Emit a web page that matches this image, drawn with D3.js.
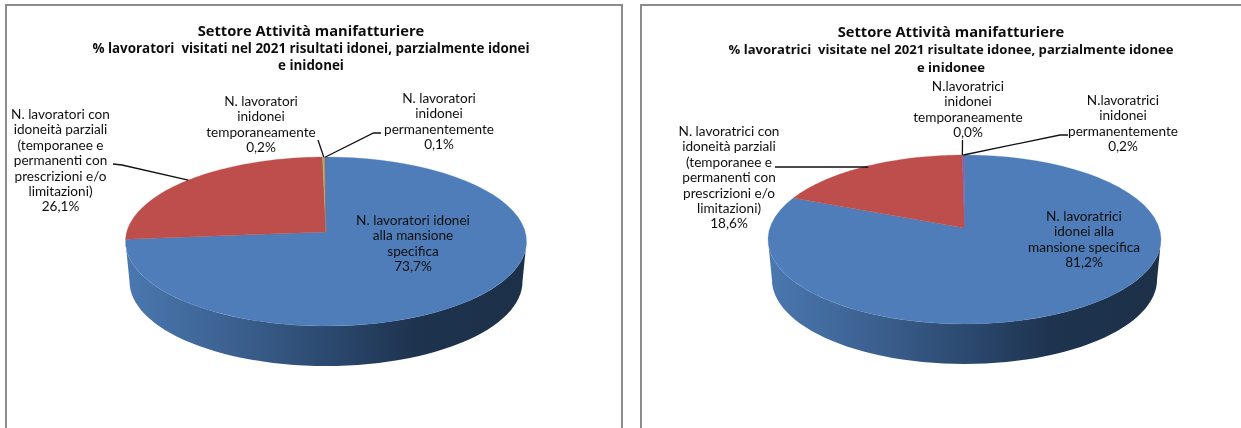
<!DOCTYPE html>
<html><head><meta charset="utf-8">
<script src="https://cdn.jsdelivr.net/npm/d3@7/dist/d3.min.js"></script>
<style>html,body{margin:0;padding:0;background:#fff;overflow:hidden}svg{display:block}text{font-family:Lato,"Open Sans",sans-serif;fill:#111}</style>
</head><body><svg id="c" width="1241" height="428"></svg>
<script>
const maleValues=[73.7,26.1,0.2,0.1];
const femaleValues=[81.2,18.6,0.0,0.2];
const sliceColors=["#4e7db9","#bd4e4b","#9bbb59","#8064a2"];
const maleTitle=["Settore Attività manifatturiere","% lavoratori  visitati nel 2021 risultati idonei, parzialmente idonei","e inidonei"];
const femaleTitle=["Settore Attività manifatturiere","% lavoratrici  visitate nel 2021 risultate idonee, parzialmente idonee","e inidonee"];
const maleLabels=[
 ["N. lavoratori idonei","alla mansione","specifica","73,7%"],
 ["N. lavoratori con","idoneità parziali","(temporanee e","permanenti con","prescrizioni e/o","limitazioni)","26,1%"],
 ["N. lavoratori","inidonei","temporaneamente","0,2%"],
 ["N. lavoratori","inidonei","permanentemente","0,1%"]];
const femaleLabels=[
 ["N. lavoratrici","idonei alla","mansione specifica","81,2%"],
 ["N. lavoratrici con","idoneità parziali","(temporanee e","permanenti con","prescrizioni e/o","limitazioni)","18,6%"],
 ["N.lavoratrici","inidonei","temporaneamente","0,0%"],
 ["N.lavoratrici","inidonei","permanentemente","0,2%"]];

const svg=d3.select("#c");
const defs=svg.append("defs");
const grad=defs.append("linearGradient").attr("id","wall");
[[0,"#4a78b0"],[0.22,"#3f6596"],[0.5,"#2c4a70"],[0.72,"#1e334f"],[1,"#1c3048"]].forEach(s=>grad.append("stop").attr("offset",s[0]).attr("stop-color",s[1]));
defs.append("filter").attr("id","soft").append("feGaussianBlur").attr("stdDeviation",0.4);

function panel(o){
  const g=svg.append("g");
  g.append("rect").attr("x",o.frame[0]).attr("y",o.frame[1]).attr("width",o.frame[2]).attr("height",o.frame[3])
   .attr("fill","#fff").attr("stroke","#8c8c8c").attr("stroke-width",2);
  const pk=((o.bot-o.cy)-(o.cy-o.top))/((o.bot-o.cy)+(o.cy-o.top));
  const A=(o.bot-o.cy)*(1-pk), B=o.rx*Math.sqrt(1-pk*pk);
  const proj=t=>{const u=Math.sin(t),v=-Math.cos(t),w=1-pk*v;return [o.cx+B*u/w,o.cy+A*v/w];};
  const arcPts=(a,b)=>d3.range(0,61).map(i=>proj(a+(b-a)*i/60));
  const line=d3.line();
  const arcs=d3.pie().sort(null).value(d=>d)(o.values);
  // side wall, between the widest points of the rim
  const lower=p=>[o.cx+(p[0]-o.cx)*o.wallScale,p[1]+o.depth];
  const d=Math.asin(pk);
  const front=arcPts(Math.PI/2+d,Math.PI*1.5-d);
  const wallPts=front.concat(front.slice().reverse().map(lower));
  g.append("path").attr("d",line(wallPts)+"Z").attr("fill","url(#wall)");
  // top face
  arcs.forEach((a,i)=>{
    if(a.endAngle-a.startAngle<=0)return;
    const pts=[[o.cx,o.cy]].concat(arcPts(a.startAngle,a.endAngle));
    g.append("path").attr("d",line(pts)+"Z").attr("fill",sliceColors[i]).attr("stroke",sliceColors[i]).attr("stroke-width",i>1?0.6:0.3);
  });
  // labels
  const tg=g.append("g").attr("filter","url(#soft)");
  o.title.forEach((s,i)=>tg.append("text").attr("x",o.titleX).attr("y",o.titleY[i]).attr("text-anchor","middle")
    .style("font-family","'Open Sans',sans-serif").style("white-space","pre").attr("font-size",i?o.subSize:14.7).attr("font-weight",700).text(s));
  o.labels.forEach((L,i)=>{
    const t=tg.append("text").attr("text-anchor","middle").attr("font-size",13.6);
    L.forEach((s,j)=>t.append("tspan").attr("x",o.labelPos[i][0]).attr("y",o.labelPos[i][1]+j*o.lh).text(s));
  });
  // leaders end on the rim of their slice
  o.leaders.forEach(l=>{
    const a=arcs[l.i],e=proj((a.startAngle+a.endAngle)/2);
    g.append("path").attr("d",line(l.pts.concat([e]))).attr("fill","none").attr("stroke","#111").attr("stroke-width",1.3);
  });
}
panel({frame:[6,5,616,430],cx:326,cy:232,top:157,bot:326,rx:200.5,depth:40,wallScale:0.98,values:maleValues,
  title:maleTitle,subSize:13.4,titleX:311,titleY:[36,53,70],labels:maleLabels,lh:15.4,
  labelPos:[[413,225],[60.5,119],[261,106],[439,103]],
  leaders:[{i:1,pts:[[113,164],[122,165]]},{i:2,pts:[[318,140]]},{i:3,pts:[[381,133],[373.5,133]]}]});
panel({frame:[641,5,700,430],cx:964.5,cy:228,top:155,bot:324,rx:196.5,depth:40,wallScale:0.98,values:femaleValues,
  title:femaleTitle,subSize:13.1,titleX:951,titleY:[37,54,72],labels:femaleLabels,lh:15.4,
  labelPos:[[1084,221],[729,136],[968,91],[1123,105]],
  leaders:[{i:1,pts:[[775,167],[867,167]]},{i:2,pts:[[962.5,140]]},{i:3,pts:[[1068,135],[1060,135]]}]});
</script></body></html>
